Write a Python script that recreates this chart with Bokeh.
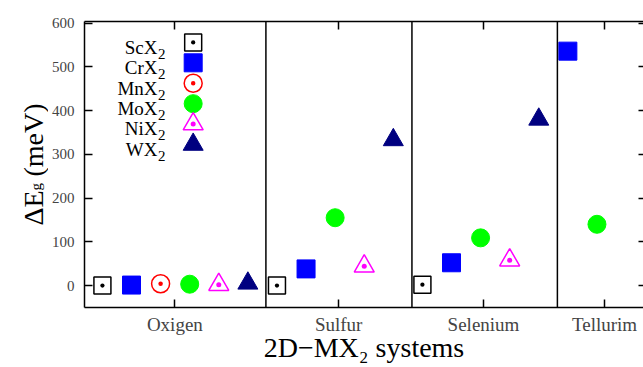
import math
from bokeh.plotting import figure
from bokeh.layouts import row
from bokeh.models import Range1d, FixedTicker, LinearAxis, Span, Label, CustomJSTickFormatter
from bokeh.embed import file_html
from bokeh.resources import INLINE

# ---------------- data ----------------
elements = ["Oxigen", "Sulfur", "Selenium", "Tellurim"]
element_ticks = [2.49, 8.12, 13.1, 17.26]
separators = [5.62, 10.64, 15.64]
y_ticks = [0, 100, 200, 300, 400, 500, 600]

compounds = ["Sc", "Cr", "Mn", "Mo", "Ni", "W"]
# ΔEg (meV) per element: Oxigen, Sulfur, Selenium, Tellurim (None = absent)
sc_vals = [0, 0, 2, None]
cr_vals = [1, 38, 52, 536]
mn_vals = [4, None, None, None]
mo_vals = [3, 155, 109, 140]
ni_vals = [2, 44, 58, None]
w_vals = [5, 333, 380, None]
values = {"Sc": sc_vals, "Cr": cr_vals, "Mn": mn_vals,
          "Mo": mo_vals, "Ni": ni_vals, "W": w_vals}

# ---------------- styles ----------------
SERIF = "Liberation Serif"
styles = {
    "Sc": dict(marker="square_dot", size=17, fill_color=None, line_color="black", line_width=1.5),
    "Cr": dict(marker="square", size=18, fill_color="#0000ff", line_color="#0000ff", line_width=1),
    "Mn": dict(marker="circle_dot", size=18, fill_color=None, line_color="#ff0000", line_width=1.5),
    "Mo": dict(marker="circle", size=18, fill_color="#00ff00", line_color="#00ff00", line_width=1),
    "Ni": dict(marker="triangle_dot", size=20, fill_color=None, line_color="#ff00ff", line_width=1.5),
    "W": dict(marker="triangle", size=20, fill_color="#000080", line_color="#000080", line_width=1),
}

# consecutive x positions, element by element
xs = {c: [] for c in compounds}
ys = {c: [] for c in compounds}
pos = 0
for ei in range(len(elements)):
    for c in compounds:
        v = values[c][ei]
        if v is not None:
            xs[c].append(pos)
            ys[c].append(v)
            pos += 1

H = 367
TOP = 21
BOTTOM = 60

# ---------------- main figure ----------------
p = figure(width=595, height=H, output_backend="svg", toolbar_location=None,
           x_range=Range1d(-0.616, 18.6), y_range=Range1d(-50.3, 603.8),
           min_border_left=34, min_border_top=TOP, min_border_bottom=BOTTOM, min_border_right=0)
p.outline_line_color = None
p.xgrid.visible = False
p.ygrid.visible = False

for c in compounds:
    p.scatter(xs[c], ys[c], **styles[c])

for s in separators:
    p.add_layout(Span(location=s, dimension="height", line_color="black", line_width=1.5))

def style_axis(ax, tick_in):
    ax.axis_line_color = "black"
    ax.axis_line_width = 1.5
    ax.major_tick_line_color = "black"
    ax.major_tick_line_width = 1.5
    ax.major_tick_in = tick_in
    ax.major_tick_out = 0
    ax.minor_tick_line_color = None

blank = CustomJSTickFormatter(code="return ''")

# bottom axis
xa = p.xaxis[0]
xa.ticker = FixedTicker(ticks=element_ticks)
xa.major_label_overrides = {t: n for t, n in zip(element_ticks, elements)}
style_axis(xa, 8)
xa.major_label_text_font = SERIF
xa.major_label_text_font_size = "19px"
xa.major_label_standoff = 6
xa.axis_label = "2D\u2212MX\u2082 systems"
xa.axis_label_text_font = SERIF
xa.axis_label_text_font_size = "28px"
xa.axis_label_text_font_style = "normal"
xa.axis_label_text_color = "black"
xa.axis_label_standoff = -6

# left axis
ya = p.yaxis[0]
ya.ticker = FixedTicker(ticks=y_ticks)
style_axis(ya, 8)
ya.major_label_text_font = SERIF
ya.major_label_text_font_size = "15px"
ya.major_label_standoff = 10

# top axis (ticks only)
ta = LinearAxis(ticker=FixedTicker(ticks=element_ticks), formatter=blank)
style_axis(ta, 8)
ta.major_label_standoff = 0
p.add_layout(ta, "above")

# right axis (ticks only)
ra = LinearAxis(ticker=FixedTicker(ticks=y_ticks), formatter=blank)
style_axis(ra, 5)
ra.axis_line_color = None
ra.major_label_standoff = 0
p.add_layout(ra, "right")

def lab(fig, text, x, y, size, angle=0.0, align="left"):
    fig.add_layout(Label(x=x, y=y, x_units="screen", y_units="screen", text=text,
                         angle=angle, text_align=align, text_baseline="alphabetic",
                         text_font=SERIF, text_font_size=size, text_color="black"))

# legend (labels left of markers)
leg_x = 3.12
leg_y0 = 556
leg_dy = 46.7
for i, c in enumerate(compounds):
    p.scatter([leg_x], [leg_y0 - i * leg_dy], **styles[c])
    base = 260.3 - i * 20.4
    lab(p, c + "X", 73, base, "19px", align="right")
    lab(p, "2", 73.5, base - 6.6, "15px")

# ---------------- y axis title panel: ΔE_g (meV) ----------------
left = figure(width=48, height=H, output_backend="svg", toolbar_location=None,
              x_axis_type=None, y_axis_type=None,
              x_range=Range1d(0, 1), y_range=Range1d(0, 1),
              min_border_left=0, min_border_right=0,
              min_border_top=TOP, min_border_bottom=BOTTOM)
left.outline_line_color = None
left.xgrid.visible = False
left.ygrid.visible = False
lab(left, "ΔE", 32.5, 82, "28px", angle=math.pi / 2)
lab(left, "g", 35.5, 117, "15px", angle=math.pi / 2)
lab(left, "(meV)", 32.5, 131, "28px", angle=math.pi / 2)

layout = row(left, p, spacing=0)

open("out.html", "w").write(file_html(layout, INLINE))
